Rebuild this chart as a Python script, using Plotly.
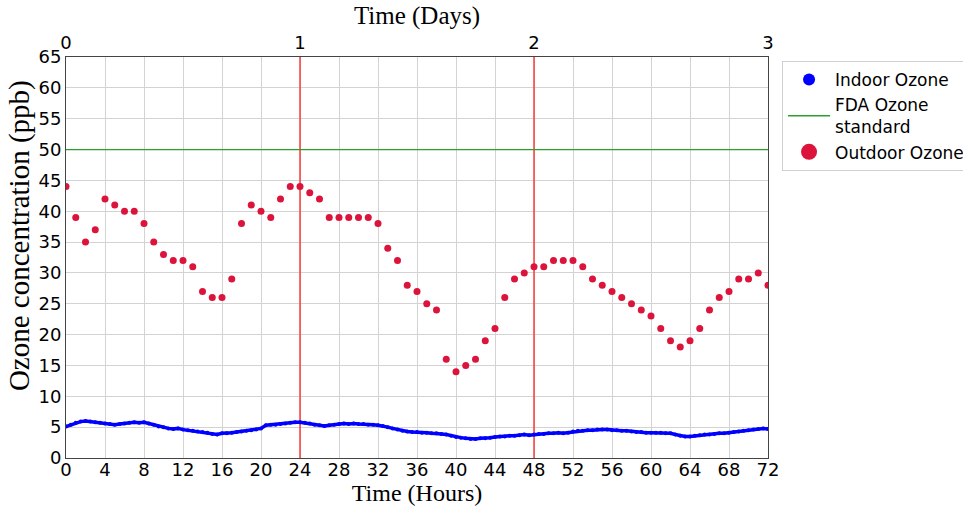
import plotly.graph_objects as go

# Outdoor ozone, hourly (ppb)
outdoor_hours = list(range(0, 73))
outdoor_ppb = [44, 39, 35, 37, 42, 41, 40, 40, 38, 35, 33, 32, 32, 31, 27, 26, 26, 29,
               38, 41, 40, 39, 42, 44, 44, 43, 42, 39, 39, 39, 39, 39, 38, 34, 32, 28,
               27, 25, 24, 16, 14, 15, 16, 19, 21, 26, 29, 30, 31, 31, 32, 32, 32, 31,
               29, 28, 27, 26, 25, 24, 23, 21, 19, 18, 19, 21, 24, 26, 27, 29, 29, 30, 28]

# Indoor ozone, every half hour (ppb)
indoor_ppb = [5.1, 5.4, 5.7, 5.9, 6.0, 5.9, 5.8, 5.7, 5.6, 5.5, 5.4, 5.5, 5.6, 5.7, 5.8, 5.7,
              5.8, 5.6, 5.4, 5.1, 5.0, 4.8, 4.7, 4.8, 4.6, 4.5, 4.4, 4.3, 4.2, 4.1, 3.9, 3.8,
              4.0, 4.0, 4.1, 4.2, 4.3, 4.4, 4.5, 4.6, 4.8, 5.3, 5.4, 5.4, 5.5, 5.6, 5.7, 5.8,
              5.8, 5.7, 5.6, 5.4, 5.3, 5.2, 5.3, 5.4, 5.5, 5.6, 5.5, 5.6, 5.5, 5.5, 5.4, 5.4,
              5.3, 5.2, 5.0, 4.8, 4.6, 4.4, 4.3, 4.2, 4.2, 4.1, 4.1, 4.0, 4.0, 3.9, 3.8, 3.6,
              3.4, 3.3, 3.2, 3.1, 3.1, 3.2, 3.2, 3.3, 3.4, 3.5, 3.5, 3.6, 3.6, 3.7, 3.8, 3.7,
              3.8, 3.9, 3.9, 4.0, 4.0, 4.1, 4.0, 4.1, 4.3, 4.4, 4.4, 4.5, 4.5, 4.6, 4.6, 4.6,
              4.5, 4.5, 4.4, 4.4, 4.3, 4.2, 4.2, 4.1, 4.1, 4.1, 4.1, 4.0, 4.0, 3.8, 3.6, 3.5,
              3.5, 3.6, 3.7, 3.8, 3.8, 3.9, 4.0, 4.0, 4.1, 4.2, 4.3, 4.4, 4.5, 4.6, 4.7, 4.8, 4.7]
indoor_hours = [i * 0.5 for i in range(len(indoor_ppb))]

fda_standard = 50
day_marks_hours = [24, 48]
day_ticks = [0, 1, 2, 3]
hour_ticks = list(range(0, 73, 4))
ppb_ticks = list(range(0, 66, 5))

serif = "Liberation Serif, Times New Roman, serif"
sans = "DejaVu Sans, sans-serif"

fig = go.Figure()

for h in day_marks_hours:
    fig.add_trace(go.Scatter(x=[h, h], y=[0, 65], mode="lines",
                             line=dict(color="#ff2020", width=1.3),
                             showlegend=False, hoverinfo="skip"))

fig.add_trace(go.Scatter(x=indoor_hours, y=indoor_ppb, mode="lines",
                         line=dict(color="#0000ff", width=3.5),
                         showlegend=False, hoverinfo="skip"))
fig.add_trace(go.Scatter(x=indoor_hours, y=indoor_ppb, mode="markers",
                         marker=dict(color="#0000ff", size=4),
                         showlegend=False))

fig.add_trace(go.Scatter(x=[0, 72], y=[fda_standard, fda_standard], mode="lines",
                         line=dict(color="#2ca02c", width=1.3),
                         showlegend=False))

fig.add_trace(go.Scatter(x=outdoor_hours, y=outdoor_ppb, mode="markers",
                         marker=dict(color="#dc143c", size=7),
                         showlegend=False))

fig.add_trace(go.Scatter(x=[None], y=[None], mode="markers", name="Indoor Ozone",
                         marker=dict(color="#0000ff", size=12)))
fig.add_trace(go.Scatter(x=[None], y=[None], mode="lines", name="FDA Ozone<br>standard",
                         line=dict(color="#2ca02c", width=1.5)))
fig.add_trace(go.Scatter(x=[None], y=[None], mode="markers", name="Outdoor Ozone",
                         marker=dict(color="#dc143c", size=17)))

fig.add_trace(go.Scatter(x=day_ticks, y=[None] * len(day_ticks), xaxis="x2",
                         showlegend=False, hoverinfo="skip"))

fig.update_layout(
    width=963, height=506,
    margin=dict(l=66, r=195, t=57, b=48, autoexpand=False),
    paper_bgcolor="white", plot_bgcolor="white",
    font=dict(family=sans, size=18, color="black"),
    xaxis=dict(range=[0, 72], tickvals=hour_ticks, showgrid=True, gridcolor="#d3d3d3",
               zeroline=False, showline=True, linecolor="#444", linewidth=1, mirror=True,
               ticks="", tickfont=dict(size=18, family=sans), automargin=False,
               ticklabelstandoff=-5,
               title=dict(text="Time (Hours)", font=dict(family=serif, size=24), standoff=0)),
    xaxis2=dict(range=[0, 3], tickvals=day_ticks, overlaying="x", side="top",
                showgrid=False, zeroline=False, ticks="", tickfont=dict(size=18, family=sans),
                automargin=False, ticklabelstandoff=3,
                title=dict(text="Time (Days)", font=dict(family=serif, size=25), standoff=0)),
    yaxis=dict(range=[0, 65], tickvals=ppb_ticks, showgrid=True, gridcolor="#d3d3d3",
               zeroline=False, showline=True, linecolor="#444", linewidth=1, mirror=True,
               ticks="", tickfont=dict(size=18, family=sans), automargin=False),
    annotations=[dict(text="Ozone concentration (ppb)", textangle=-90,
                      xref="paper", yref="paper", x=-0.066, y=0.555,
                      xanchor="center", yanchor="middle", showarrow=False,
                      font=dict(family=serif, size=29, color="black"))],
    legend=dict(x=1.02, y=0.99, xanchor="left", yanchor="top",
                bordercolor="#d0d0d0", borderwidth=1, bgcolor="white",
                font=dict(family=sans, size=17), itemsizing="trace", tracegroupgap=2,
                itemwidth=42),
    showlegend=True,
)

fig.write_html("out.html", config={"displayModeBar": False},
               post_script="document.body.style.margin='0';")
